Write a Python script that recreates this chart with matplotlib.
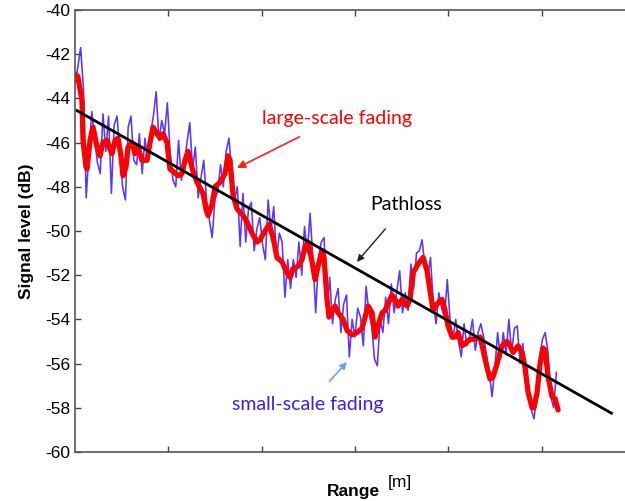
import numpy as np
import matplotlib
matplotlib.use("Agg")
import matplotlib.pyplot as plt

# smoothed (large-scale) trace
red_range = [0, 3, 7.5, 8.6, 11.8, 12.9, 16.1, 19.3, 23.6, 26.8, 30.0, 34.3, 37.5, 39.7,
             42.9, 46.1, 49.3, 51.5, 54.7, 56.8, 61.1, 64.3, 67.5, 71.8, 77.2, 80.4, 83.6,
             87.9, 91.1, 94.3, 98.6, 101.8, 105.1, 110.4, 114.7, 117.9, 121.1, 126.5, 130.8,
             137.2, 140.4, 142.6, 146.9, 150.1, 155.4, 160.8, 164.0, 166.2, 169.4, 173.7,
             180.1, 184.4, 189.7, 195.1, 198.3, 203.7, 208.0, 212.3, 216.5, 221.9, 227.3,
             230.5, 233.7, 239.1, 243.3, 246.6, 249.8, 254.1, 257.3, 260.5, 264.8, 266.9,
             270.1, 272.3, 275.5, 278.7, 281.9, 287.3, 291.6, 296.9, 302.3, 307.7, 310.9,
             314.1, 318.4, 321.6, 324.8, 329.1, 332.3, 335.5, 339.8, 343.0, 346.3, 350.5,
             355.9, 359.1, 362.3, 367.7, 373.1, 377.3, 380.6, 383.8, 388.1, 393.4, 396.6,
             399.9, 404.1, 407.4, 410.6, 414.9, 418.1, 423.4, 428.8, 434.2, 437.4, 441.7,
             444.9, 448.1, 452.4, 455.6, 457.7, 463.1, 466.3, 469.5, 474.9, 479.2, 482.4,
             485.6, 489.9, 492.0, 495.3, 498.5, 501.7, 503.8, 507.1, 511.3, 514.6, 517.8]
red_db = [-42.9, -43.0, -44.1, -45.9, -47.1, -47.2, -45.9, -45.3, -46.2, -46.6, -46.0, -45.9,
          -46.3, -46.5, -45.9, -45.8, -46.6, -47.5, -47.1, -46.2, -46.0, -46.5, -46.2, -46.8,
          -46.8, -46.0, -45.3, -45.6, -45.8, -45.6, -46.0, -47.2, -47.3, -47.5, -47.4, -46.8,
          -46.4, -47.3, -47.8, -48.3, -49.0, -49.3, -48.8, -48.0, -47.8, -47.4, -46.6, -46.8,
          -48.4, -49.0, -49.3, -49.6, -50.1, -50.5, -50.4, -50.0, -49.7, -50.3, -51.2, -51.4,
          -51.9, -52.1, -51.7, -51.6, -51.3, -50.7, -50.5, -51.4, -52.2, -51.6, -50.9, -51.2,
          -53.1, -53.9, -53.6, -53.4, -53.7, -54.0, -54.5, -54.7, -54.6, -54.4, -53.9, -53.4,
          -53.7, -54.8, -54.3, -53.7, -53.6, -53.3, -52.9, -53.1, -53.4, -53.1, -53.4, -53.1,
          -51.9, -51.5, -51.2, -51.8, -52.7, -53.6, -53.3, -53.1, -53.6, -54.3, -54.8, -54.8,
          -54.6, -55.2, -55.1, -54.9, -54.9, -54.8, -55.4, -56.2, -56.7, -56.6, -56.0, -55.5,
          -55.2, -55.0, -55.2, -55.5, -55.2, -55.5, -56.2, -57.3, -58.0, -58.0, -57.3, -56.0,
          -55.3, -55.4, -56.6, -57.5, -57.6, -58.1]

# raw measured trace (small-scale fading), one sample every 3 range units
blue_step = 3
blue_db = [-43.3, -42.6, -41.7, -43.5, -48.5, -46.4, -44.6, -45.8, -46.9, -47.4,
           -44.7, -46.4, -44.8, -48.3, -45.2, -44.8, -46.3, -48.0, -48.6, -45.3,
           -44.8, -46.8, -47.0, -45.6, -47.4, -45.8, -46.8, -45.6, -44.8, -43.7,
           -45.9, -45.0, -45.6, -44.2, -46.5, -47.7, -48.0, -45.9, -47.7, -47.0,
           -46.0, -45.1, -47.2, -46.2, -48.5, -47.6, -46.8, -48.6, -49.5, -50.3,
           -48.6, -48.2, -47.0, -48.0, -46.4, -45.8, -47.3, -48.6, -48.0, -50.7,
           -48.3, -50.5, -49.0, -48.7, -50.9, -49.9, -49.4, -50.6, -51.3, -48.6,
           -50.0, -48.9, -51.3, -50.1, -50.5, -53.0, -51.3, -52.6, -51.3, -52.1,
           -50.5, -52.0, -49.8, -51.0, -49.2, -51.3, -53.7, -51.2, -50.5, -50.3,
           -53.6, -52.1, -54.2, -53.1, -52.6, -54.6, -53.3, -52.9, -55.7, -54.0,
           -54.8, -53.5, -53.9, -55.2, -52.5, -53.7, -54.3, -55.8, -56.1, -54.0,
           -54.6, -53.0, -54.2, -52.4, -53.7, -52.7, -51.8, -53.7, -52.8, -53.6,
           -51.5, -52.6, -51.0, -50.9, -50.4, -51.6, -52.1, -51.2, -53.3, -54.2,
           -52.8, -53.5, -53.9, -52.2, -54.0, -54.9, -54.0, -55.0, -55.7, -54.2,
           -55.2, -54.8, -54.0, -55.4, -54.6, -54.2, -54.8, -55.6, -56.4, -57.5,
           -56.2, -54.6, -55.8, -54.6, -55.6, -54.0, -55.5, -54.4, -54.3, -56.0,
           -55.1, -56.9, -57.2, -58.1, -58.5, -57.3, -55.7, -54.9, -54.6, -55.5,
           -57.5, -58.0, -56.4]
blue_range = np.arange(len(blue_db)) * blue_step

# pathloss fit
path_range = [2, 575]
path_db = [-44.55, -58.25]

y_ticks = list(range(-60, -38, 2))
x_ticks = [100, 200, 300, 400, 500]

plt.rcParams['font.family'] = ['Liberation Sans', 'DejaVu Sans']
plt.rcParams['axes.unicode_minus'] = False

fig = plt.figure(figsize=(6.25, 5.01), dpi=100)
ax = fig.add_axes([0.12, 0.098, 0.8957, 0.882])

ax.plot(blue_range, blue_db, color='#4a1fff', lw=1.15, alpha=0.9)
ax.plot(red_range, red_db, color='#ff0000', lw=3.8,
        solid_joinstyle='round', solid_capstyle='round')
ax.plot(path_range, path_db, color='black', lw=2)

ax.set_xlim(0, 600)
ax.set_ylim(-60, -40)
ax.set_yticks(y_ticks)
ax.set_xticks(x_ticks)
ax.set_xticklabels([])
ax.tick_params(direction='in', length=4, width=1, colors='#444444',
               top=True, right=True, labelsize=12.5, labelcolor='black')
for sp in ax.spines.values():
    sp.set_color('#555555')
    sp.set_linewidth(1.2)

ax.set_ylabel('Signal level (dB)', fontsize=12.5, fontweight='bold', labelpad=8)
fig.text(0.565, 0.004, 'Range', fontsize=12.5, fontweight='bold', ha='center', va='bottom')
fig.text(0.62, 0.022, '[m]', fontsize=12.5, ha='left', va='bottom')

# annotations
note_font = ['Lato', 'DejaVu Sans']
ax.annotate('large-scale fading', xy=(173.6, -47.15), xytext=(280.8, -44.89),
            color='#ff0000', fontsize=14, family=note_font, ha='center', va='center',
            arrowprops=dict(arrowstyle='-|>', color='#ff2020', lw=1.2,
                            shrinkA=12, shrinkB=0, mutation_scale=12))
ax.annotate('Pathloss', xy=(302.2, -51.4), xytext=(354.8, -48.82),
            color='black', fontsize=14, family=note_font, ha='center', va='center',
            arrowprops=dict(arrowstyle='-|>', color='#222222', lw=1,
                            shrinkA=12, shrinkB=0, mutation_scale=10))
ax.annotate('small-scale fading', xy=(291.5, -55.93), xytext=(249.7, -57.87),
            color='#3b1fe6', fontsize=14, family=note_font, ha='center', va='center',
            arrowprops=dict(arrowstyle='-|>', color='#6fa0ff', lw=1.2,
                            shrinkA=12, shrinkB=0, mutation_scale=10))

fig.savefig('out.png', dpi=100)
